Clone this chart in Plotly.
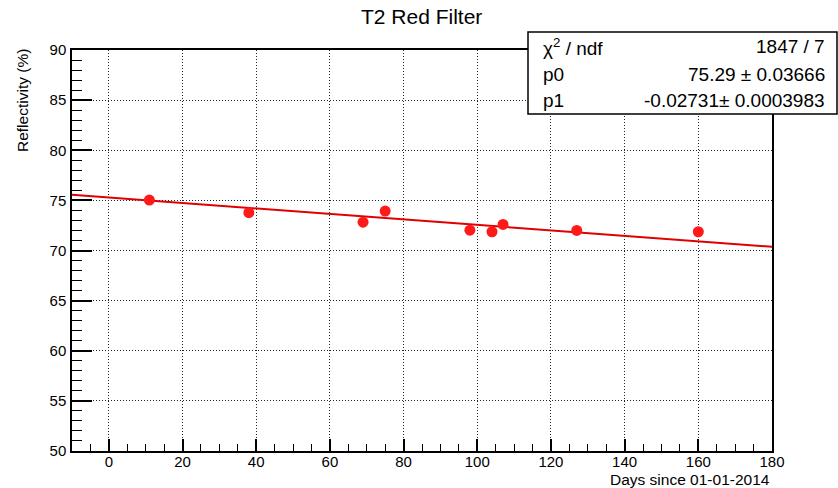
import plotly.graph_objects as go

# ---- data ----
days = [11, 38, 69, 75, 98, 104, 107, 127, 160]
reflectivity = [75.03, 73.77, 72.83, 73.93, 72.03, 71.87, 72.6, 72.0, 71.87]

# fit parameters shown in the stats box
p0 = 75.29
p1 = -0.02731
fit_x = [-10, 180]
fit_y = [p0 + p1 * x for x in fit_x]

x_range = [-10, 180]
y_range = [50, 90]
x_tick_vals = [0, 20, 40, 60, 80, 100, 120, 140, 160, 180]
y_tick_vals = [50, 55, 60, 65, 70, 75, 80, 85, 90]

stats_labels = ["χ<sup>2</sup> / ndf", "p0", "p1"]
stats_values = ["1847 / 7", "75.29 ± 0.03666", "-0.02731± 0.0003983"]

FONT = "Liberation Sans, Arial, Helvetica, sans-serif"

fig = go.Figure()
fig.add_trace(go.Scatter(x=fit_x, y=fit_y, mode="lines",
                         line=dict(color="#e00000", width=2), showlegend=False,
                         hoverinfo="skip"))
fig.add_trace(go.Scatter(x=days, y=reflectivity, mode="markers",
                         marker=dict(color="#ff1a1a", size=11, line=dict(width=0)),
                         showlegend=False))

W, H = 838, 488
L, R, T, B = 72, 66, 50, 37
pw, ph = W - L - R, H - T - B

def px2x(px):
    return (px - L) / pw

def py2y(py):
    return (H - B - py) / ph

axis_common = dict(
    showline=True, linecolor="black", linewidth=1.5, mirror=True,
    ticks="inside", tickcolor="black", tickwidth=1.5,
    showgrid=True, gridcolor="#222222", gridwidth=1, griddash="1px,2px",
    zeroline=False,
    tickfont=dict(family=FONT, size=15, color="black"),
)

fig.update_xaxes(range=x_range, tickmode="array", tickvals=x_tick_vals,
                 ticklen=12, ticklabelstandoff=-4,
                 minor=dict(dtick=5, tick0=0, ticks="inside", ticklen=7,
                            tickcolor="black", tickwidth=1.2, showgrid=False),
                 **axis_common)
fig.update_yaxes(range=y_range, tickmode="array", tickvals=y_tick_vals,
                 ticklen=20, ticklabelstandoff=1,
                 minor=dict(dtick=1, tick0=50, ticks="inside", ticklen=10,
                            tickcolor="black", tickwidth=1.2, showgrid=False),
                 **axis_common)

# stats box
fig.add_shape(type="rect", xref="paper", yref="paper",
              x0=px2x(528), x1=px2x(837), y0=py2y(114), y1=py2y(32),
              fillcolor="white", line=dict(color="black", width=1.5),
              layer="above")
row_y = [47, 74, 100]
for lab, val, ry in zip(stats_labels, stats_values, row_y):
    fig.add_annotation(text=lab, xref="paper", yref="paper",
                       x=px2x(541), y=py2y(ry), xanchor="left", yanchor="middle",
                       showarrow=False, font=dict(family=FONT, size=19, color="black"))
    fig.add_annotation(text=val, xref="paper", yref="paper",
                       x=px2x(827), y=py2y(ry), xanchor="right", yanchor="middle",
                       showarrow=False, font=dict(family=FONT, size=19, color="black"))

# titles
fig.add_annotation(text="T2 Red Filter", xref="paper", yref="paper",
                   x=px2x(421.5), y=py2y(17), xanchor="center", yanchor="middle",
                   showarrow=False, font=dict(family=FONT, size=21, color="black"))
fig.add_annotation(text="Reflectivity (%)", xref="paper", yref="paper",
                   x=px2x(22.5), y=py2y(100.5), xanchor="center", yanchor="middle",
                   textangle=-90, showarrow=False,
                   font=dict(family=FONT, size=15.5, color="black"))
fig.add_annotation(text="Days since 01-01-2014", xref="paper", yref="paper",
                   x=px2x(772), y=py2y(479), xanchor="right", yanchor="middle",
                   showarrow=False, font=dict(family=FONT, size=15.5, color="black"))

fig.update_layout(width=W, height=H, margin=dict(l=L, r=R, t=T, b=B),
                  paper_bgcolor="white", plot_bgcolor="white",
                  font=dict(family=FONT, color="black"))

fig.write_html("out.html", config={"displayModeBar": False},
               post_script="document.body.style.margin='0';document.body.style.overflow='hidden';")
